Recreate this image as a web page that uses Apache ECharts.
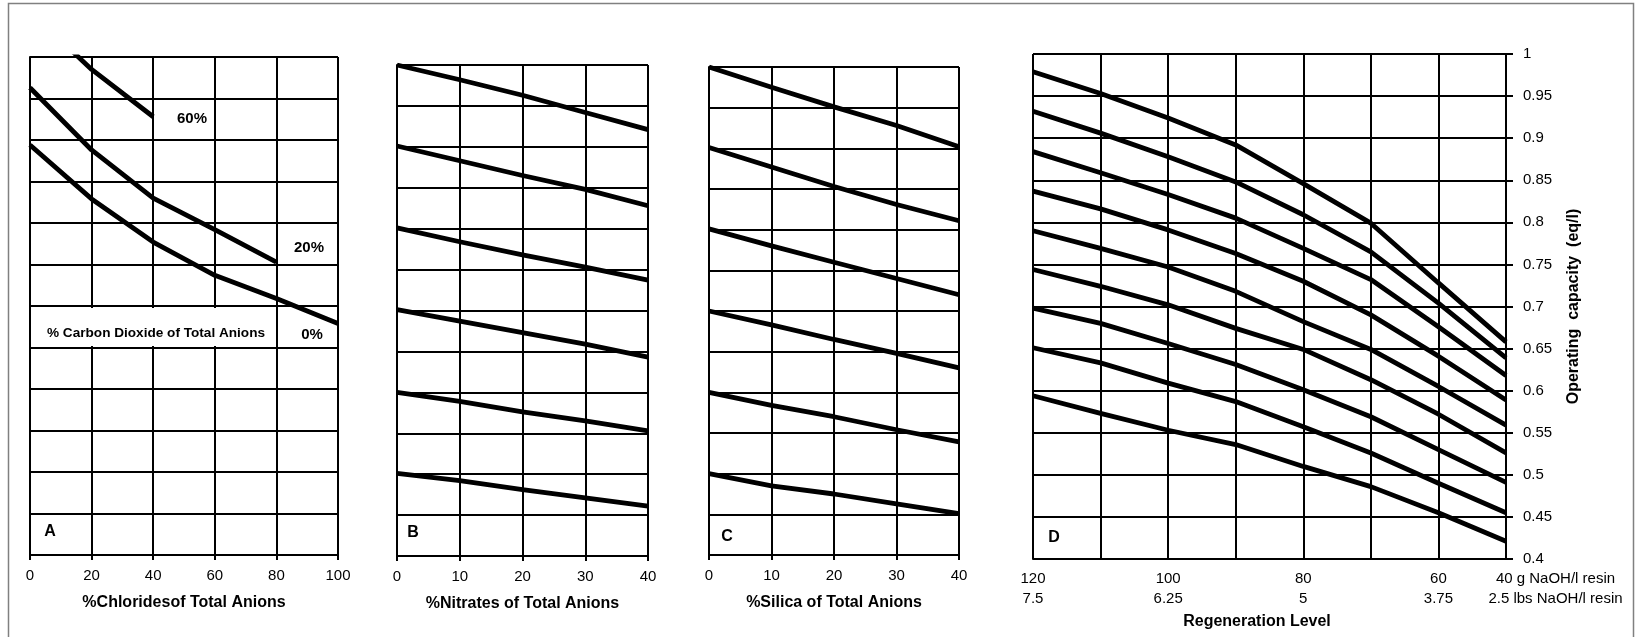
<!DOCTYPE html>
<html>
<head>
<meta charset="utf-8">
<style>
html, body { margin: 0; padding: 0; background: #fff; }
#chart { width: 1642px; height: 637px; }
</style>
<script src="https://cdn.jsdelivr.net/npm/echarts@6/dist/echarts.min.js"></script>
</head>
<body>
<div id="chart"></div>
<script>
// ---- Panel A: chlorides, one curve per carbon dioxide share ----
const chlorideTicks = [0, 20, 40, 60, 80, 100];
const co2Zero   = [0.894, 0.829, 0.777, 0.737, 0.709, 0.679];
const co2Twenty = [0.963, 0.888, 0.830, 0.792, 0.753];
const co2Sixty  = [1.055, 0.985, 0.928];

// ---- Panel B: nitrates ----
const nitrateTicks = [0, 10, 20, 30, 40];
const nitrateCurves = [
  [1.000, 0.982, 0.963, 0.942, 0.921],
  [0.901, 0.883, 0.865, 0.848, 0.828],
  [0.801, 0.784, 0.768, 0.753, 0.737],
  [0.701, 0.687, 0.673, 0.659, 0.643],
  [0.600, 0.589, 0.576, 0.565, 0.553],
  [0.501, 0.492, 0.481, 0.471, 0.461]
];

// ---- Panel C: silica ----
const silicaTicks = [0, 10, 20, 30, 40];
const silicaCurves = [
  [1.000, 0.975, 0.951, 0.928, 0.902],
  [0.901, 0.877, 0.853, 0.831, 0.811],
  [0.801, 0.780, 0.760, 0.740, 0.720],
  [0.700, 0.683, 0.665, 0.648, 0.630],
  [0.600, 0.584, 0.570, 0.554, 0.539],
  [0.500, 0.485, 0.475, 0.463, 0.451]
];

// ---- Panel D: regeneration level vs. operating capacity ----
const regenLevels = ['120', '110', '100', '90', '80', '70', '60', '40'];
const regenGrams  = ['120', '', '100', '', '80', '', '60', '40 g NaOH/l resin'];
const regenLbs    = ['7.5', '', '6.25', '', '5', '', '3.75', '2.5 lbs NaOH/l resin'];
const capacityCurves = [
  [0.979, 0.953, 0.924, 0.892, 0.846, 0.799, 0.728, 0.658],
  [0.932, 0.906, 0.878, 0.848, 0.809, 0.765, 0.704, 0.639],
  [0.884, 0.859, 0.833, 0.805, 0.769, 0.732, 0.676, 0.618],
  [0.837, 0.816, 0.791, 0.763, 0.730, 0.690, 0.641, 0.589],
  [0.790, 0.769, 0.747, 0.718, 0.682, 0.649, 0.605, 0.559],
  [0.744, 0.724, 0.702, 0.674, 0.649, 0.613, 0.572, 0.526],
  [0.698, 0.680, 0.656, 0.631, 0.601, 0.569, 0.530, 0.491],
  [0.651, 0.633, 0.609, 0.587, 0.557, 0.526, 0.490, 0.455],
  [0.594, 0.573, 0.553, 0.536, 0.510, 0.486, 0.455, 0.421]
];

const FONT = '"Liberation Sans", Arial, Helvetica, sans-serif';
const INK = '#000';
const GRID_LINE = { color: INK, width: 2 };

function pairs(xs, ys) {
  return ys.map((y, i) => [xs[i], y]);
}

function curveSeries(data, gridIdx) {
  return {
    type: 'line',
    xAxisIndex: gridIdx,
    yAxisIndex: gridIdx,
    data: data,
    showSymbol: false,
    symbol: 'none',
    lineStyle: { color: INK, width: 4.8 },
    silent: true,
    animation: false
  };
}

function percentAxis(gridIdx, max, step, name) {
  return {
    gridIndex: gridIdx,
    type: 'value',
    min: 0, max: max, interval: step,
    axisLine: { show: true, lineStyle: GRID_LINE },
    axisTick: { show: true, length: 5, lineStyle: GRID_LINE },
    axisLabel: { color: INK, fontSize: 15, fontFamily: FONT, margin: 13 },
    splitLine: { show: true, lineStyle: GRID_LINE },
    name: name,
    nameLocation: 'middle',
    nameGap: 40,
    nameTextStyle: { color: INK, fontSize: 16, fontWeight: 'bold', fontFamily: FONT }
  };
}

function hiddenCapacityAxis(gridIdx) {
  return {
    gridIndex: gridIdx,
    type: 'value',
    min: 0.4, max: 1, interval: 0.05,
    axisLine: { show: true, lineStyle: GRID_LINE },
    axisTick: { show: false },
    axisLabel: { show: false },
    splitLine: { show: true, lineStyle: GRID_LINE }
  };
}

const series = [];
series.push(curveSeries(pairs(chlorideTicks, co2Zero), 0));
series.push(curveSeries(pairs(chlorideTicks, co2Twenty), 0));
series.push(curveSeries(pairs(chlorideTicks, co2Sixty), 0));
nitrateCurves.forEach(c => series.push(curveSeries(pairs(nitrateTicks, c), 1)));
silicaCurves.forEach(c => series.push(curveSeries(pairs(silicaTicks, c), 2)));
capacityCurves.forEach(c => series.push(curveSeries(c, 3)));

function textItem(text, x, y, size, weight) {
  return {
    type: 'text', x: x, y: y, z: 100, silent: true,
    style: {
      text: text, fill: INK,
      font: (weight || 'bold') + ' ' + size + 'px ' + FONT,
      align: 'center', verticalAlign: 'middle',
      textAlign: 'center', textVerticalAlign: 'middle'
    }
  };
}

const option = {
  backgroundColor: '#fff',
  animation: false,
  grid: [
    { left: 30,   top: 57, width: 308, height: 498, outerBoundsMode: 'none' },
    { left: 397,  top: 65, width: 251, height: 491, outerBoundsMode: 'none' },
    { left: 709,  top: 67, width: 250, height: 488, outerBoundsMode: 'none' },
    { left: 1033, top: 54, width: 473, height: 505, outerBoundsMode: 'none' }
  ],
  xAxis: [
    percentAxis(0, 100, 20, '%Chloridesof Total Anions'),
    percentAxis(1, 40, 10, '%Nitrates of Total Anions'),
    percentAxis(2, 40, 10, '%Silica of Total Anions'),
    {
      gridIndex: 3,
      type: 'category',
      data: regenLevels,
      boundaryGap: false,
      axisLine: { show: true, lineStyle: GRID_LINE },
      axisTick: { show: false },
      axisLabel: {
        interval: 0,
        color: INK, fontSize: 15, fontFamily: FONT, lineHeight: 20, margin: 10,
        formatter: function (value, index) {
          const g = regenGrams[index], l = regenLbs[index];
          if (!g) return '';
          if (index === regenLevels.length - 1) {
            return '{wide|' + g + '}\n{wide|' + l + '}';
          }
          return g + '\n' + l;
        },
        rich: {
          wide: { color: INK, fontSize: 15, fontFamily: FONT, lineHeight: 20, padding: [0, 0, 0, 99] }
        }
      },
      splitLine: { show: true, interval: 0, lineStyle: GRID_LINE },
      name: 'Regeneration Level',
      nameLocation: 'middle',
      nameGap: 52,
      nameTextStyle: { color: INK, fontSize: 16, fontWeight: 'bold', fontFamily: FONT, padding: [0, 25, 0, 0] }
    }
  ],
  yAxis: [
    hiddenCapacityAxis(0),
    hiddenCapacityAxis(1),
    hiddenCapacityAxis(2),
    {
      gridIndex: 3,
      type: 'value',
      position: 'right',
      min: 0.4, max: 1, interval: 0.05,
      axisLine: { show: true, lineStyle: GRID_LINE },
      axisTick: { show: true, length: 7, lineStyle: GRID_LINE },
      axisLabel: { color: INK, fontSize: 15, fontFamily: FONT, margin: 17 },
      splitLine: { show: true, lineStyle: GRID_LINE },
      name: 'Operating  capacity  (eq/l)',
      nameLocation: 'middle',
      nameRotate: 90,
      nameGap: 60,
      nameTextStyle: { color: INK, fontSize: 16, fontWeight: 'bold', fontFamily: FONT }
    }
  ],
  series: series,
  graphic: [
    {
      type: 'rect', z: 100, silent: true,
      shape: { x: 8.5, y: 3.5, width: 1625, height: 640 },
      style: { fill: 'none', stroke: '#808080', lineWidth: 1.5 }
    },
    {
      type: 'rect', z: 99, silent: true,
      shape: { x: 32, y: 308, width: 243, height: 38 },
      style: { fill: '#fff' }
    },
    textItem('% Carbon Dioxide of Total Anions', 156, 333, 13.6),
    textItem('60%', 192, 119, 15),
    textItem('20%', 309, 248, 15),
    textItem('0%', 312, 335, 15),
    textItem('A', 50, 532, 16),
    textItem('B', 413, 533, 16),
    textItem('C', 727, 537, 16),
    textItem('D', 1054, 538, 16)
  ]
};

const chart = echarts.init(document.getElementById('chart'), null, { renderer: 'canvas' });
chart.setOption(option);
</script>
</body>
</html>
